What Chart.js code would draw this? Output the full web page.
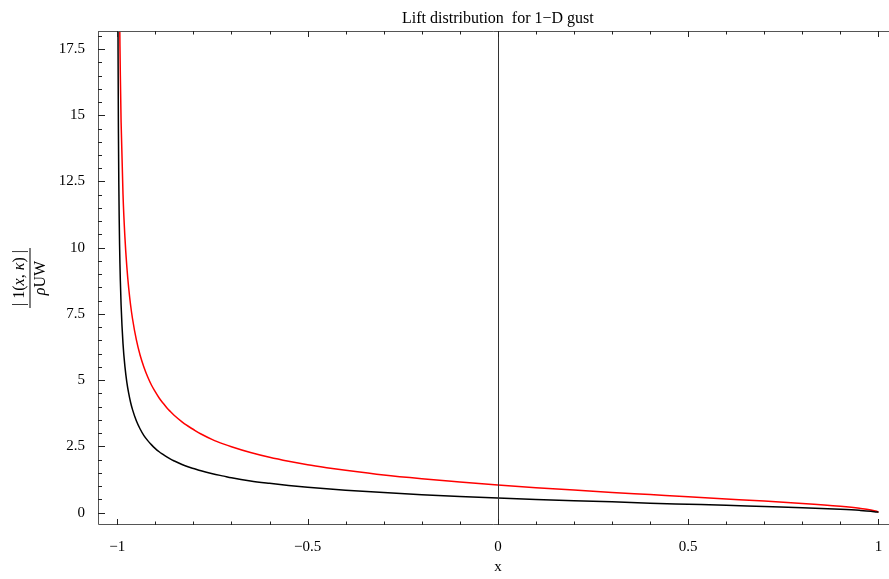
<!DOCTYPE html>
<html>
<head>
<meta charset="utf-8">
<script src="https://cdn.jsdelivr.net/npm/chart.js@4.4.0/dist/chart.umd.min.js"></script>
<style>
  html, body { margin: 0; padding: 0; background: #fff; }
  canvas { display: block; }
</style>
</head>
<body>
<canvas id="lift" width="889" height="579"></canvas>
<script>
/* ─── Data ─── */
const xPos = [-0.999, -0.998, -0.997, -0.996, -0.995, -0.994, -0.993, -0.992, -0.99, -0.985,
  -0.98, -0.975, -0.97, -0.965, -0.96, -0.95, -0.94, -0.93, -0.92, -0.91,
  -0.9, -0.89, -0.88, -0.87, -0.86, -0.85, -0.83, -0.82, -0.8, -0.78,
  -0.75, -0.72, -0.7, -0.65, -0.6, -0.55, -0.5, -0.45, -0.4, -0.3,
  -0.2, -0.1, 0, 0.1, 0.2, 0.3, 0.4, 0.5, 0.6, 0.7,
  0.8, 0.9, 0.95, 0.98, 0.995, 1];
const liftBlack = [24.8, 17.5, 14.3, 12.4, 11.1, 10.1, 9.37, 8.76, 7.83, 6.38,
  5.52, 4.93, 4.50, 4.16, 3.89, 3.47, 3.16, 2.91, 2.72, 2.56,
  2.42, 2.30, 2.20, 2.105, 2.02, 1.95, 1.82, 1.76, 1.67, 1.58,
  1.47, 1.38, 1.32, 1.20, 1.11, 1.03, 0.96, 0.90, 0.85, 0.76,
  0.68, 0.61, 0.555, 0.50, 0.45, 0.41, 0.36, 0.32, 0.28, 0.23,
  0.185, 0.127, 0.089, 0.056, 0.028, 0.02];
const liftRed = [46.7, 33.0, 27.0, 23.3, 20.9, 19.05, 17.6, 16.5, 14.74, 12.02,
  10.40, 9.29, 8.47, 7.83, 7.32, 6.53, 5.94, 5.49, 5.12, 4.81,
  4.56, 4.33, 4.14, 3.96, 3.81, 3.67, 3.43, 3.32, 3.14, 2.97,
  2.76, 2.59, 2.49, 2.27, 2.09, 1.94, 1.81, 1.70, 1.60, 1.42,
  1.28, 1.16, 1.045, 0.945, 0.853, 0.767, 0.684, 0.60, 0.52, 0.44,
  0.35, 0.24, 0.167, 0.105, 0.052, 0.02];

const xTicks = [-1, -0.5, 0, 0.5, 1];
const yTicks = [0, 2.5, 5, 7.5, 10, 12.5, 15, 17.5];

const SERIF = "'Liberation Serif', 'DejaVu Serif', serif";
const TICK_FONT = { family: SERIF, size: 15 };

/* ─── Frame, inward ticks, title and axis labels ─── */
const framePlugin = {
  id: 'frame',
  afterDraw(chart) {
    const ctx = chart.ctx;
    const ca = chart.chartArea;
    const xs = chart.scales.x, ys = chart.scales.y;
    ctx.save();

    // frame (no right edge, it sits outside the canvas)
    ctx.strokeStyle = '#555';
    ctx.lineWidth = 1;
    ctx.beginPath();
    ctx.moveTo(ca.left + 0.5, ca.top + 0.5);
    ctx.lineTo(ca.right, ca.top + 0.5);
    ctx.moveTo(ca.left + 0.5, ca.top);
    ctx.lineTo(ca.left + 0.5, ca.bottom - 0.5);
    ctx.lineTo(ca.right, ca.bottom - 0.5);
    ctx.stroke();

    // vertical axis at x = 0
    const x0 = Math.round(xs.getPixelForValue(0)) + 0.5;
    ctx.strokeStyle = '#333';
    ctx.beginPath();
    ctx.moveTo(x0, ca.top);
    ctx.lineTo(x0, ca.bottom);
    ctx.stroke();

    // x ticks, bottom and top
    ctx.strokeStyle = '#222';
    ctx.beginPath();
    for (let i = -10; i <= 10; i++) {
      const px = Math.round(xs.getPixelForValue(i / 10)) + 0.5;
      const len = i % 5 === 0 ? 6 : 3.5;
      ctx.moveTo(px, ca.bottom);
      ctx.lineTo(px, ca.bottom - len);
      ctx.moveTo(px, ca.top);
      ctx.lineTo(px, ca.top + len);
    }
    // y ticks on the left
    for (let i = 0; i <= 36; i++) {
      const py = Math.round(ys.getPixelForValue(i * 0.5)) + 0.5;
      const len = i % 5 === 0 ? 7 : 4;
      ctx.moveTo(ca.left, py);
      ctx.lineTo(ca.left + len, py);
    }
    ctx.stroke();

    // title
    ctx.fillStyle = '#000';
    ctx.textAlign = 'center';
    ctx.textBaseline = 'alphabetic';
    ctx.font = '16px ' + SERIF;
    ctx.fillText('Lift distribution  for 1\u2212D gust', xs.getPixelForValue(0), 23);

    // x axis label
    ctx.font = '15px ' + SERIF;
    ctx.fillText('x', xs.getPixelForValue(0), 571);

    // y axis label: |1(x, κ)| over ρUW, rotated
    ctx.translate(29.5, 278);
    ctx.rotate(-Math.PI / 2);
    const up = '16px ' + SERIF, it = 'italic 16px ' + SERIF;
    drawRuns(ctx, [['| 1(', up], ['x', it], [', ', up], ['\u03BA', it], [') |', up]], -6);
    drawRuns(ctx, [['\u03C1', it], ['UW', up]], 15);
    ctx.strokeStyle = '#000';
    ctx.beginPath();
    ctx.moveTo(-30, 0.5);
    ctx.lineTo(30, 0.5);
    ctx.stroke();

    ctx.restore();
  }
};

// text runs with mixed fonts, centred on 0
function drawRuns(ctx, runs, baseline) {
  let total = 0;
  runs.forEach(r => { ctx.font = r[1]; total += ctx.measureText(r[0]).width; });
  let x = -total / 2;
  ctx.textAlign = 'left';
  runs.forEach(r => {
    ctx.font = r[1];
    ctx.fillText(r[0], x, baseline);
    x += ctx.measureText(r[0]).width;
  });
}

const fmt = v => (v < 0 ? '\u2212' + String(-v) : String(v));

new Chart(document.getElementById('lift').getContext('2d'), {
  type: 'scatter',
  data: {
    datasets: [
      {
        label: 'black',
        data: xPos.map((x, i) => ({ x, y: liftBlack[i] })),
        showLine: true,
        borderColor: '#000',
        borderWidth: 1.5,
        pointRadius: 0,
        cubicInterpolationMode: 'monotone',
      },
      {
        label: 'red',
        data: xPos.map((x, i) => ({ x, y: liftRed[i] })),
        showLine: true,
        borderColor: '#ff0000',
        borderWidth: 1.5,
        pointRadius: 0,
        cubicInterpolationMode: 'monotone',
      }
    ]
  },
  options: {
    responsive: false,
    animation: false,
    layout: { padding: { top: 31, left: 0, right: 0, bottom: 0 } },
    plugins: { legend: { display: false }, tooltip: { enabled: false }, title: { display: false } },
    scales: {
      x: {
        type: 'linear',
        min: -1.0507,
        max: 1.0276,
        afterBuildTicks: s => { s.ticks = xTicks.map(v => ({ value: v })); },
        afterFit: s => { s.height = 54; s.paddingLeft = 0; s.paddingRight = 0; },
        grid: { display: false, drawTicks: false },
        border: { display: false },
        ticks: { font: TICK_FONT, color: '#000', padding: 13, maxRotation: 0, autoSkip: false, callback: fmt }
      },
      y: {
        type: 'linear',
        min: -0.464,
        max: 18.18,
        afterBuildTicks: s => { s.ticks = yTicks.map(v => ({ value: v })); },
        afterFit: s => { s.width = 98; s.paddingTop = 0; s.paddingBottom = 0; },
        grid: { display: false, drawTicks: false },
        border: { display: false },
        ticks: { font: TICK_FONT, color: '#000', padding: 13, autoSkip: false, callback: fmt }
      }
    }
  },
  plugins: [framePlugin]
});
</script>
</body>
</html>
